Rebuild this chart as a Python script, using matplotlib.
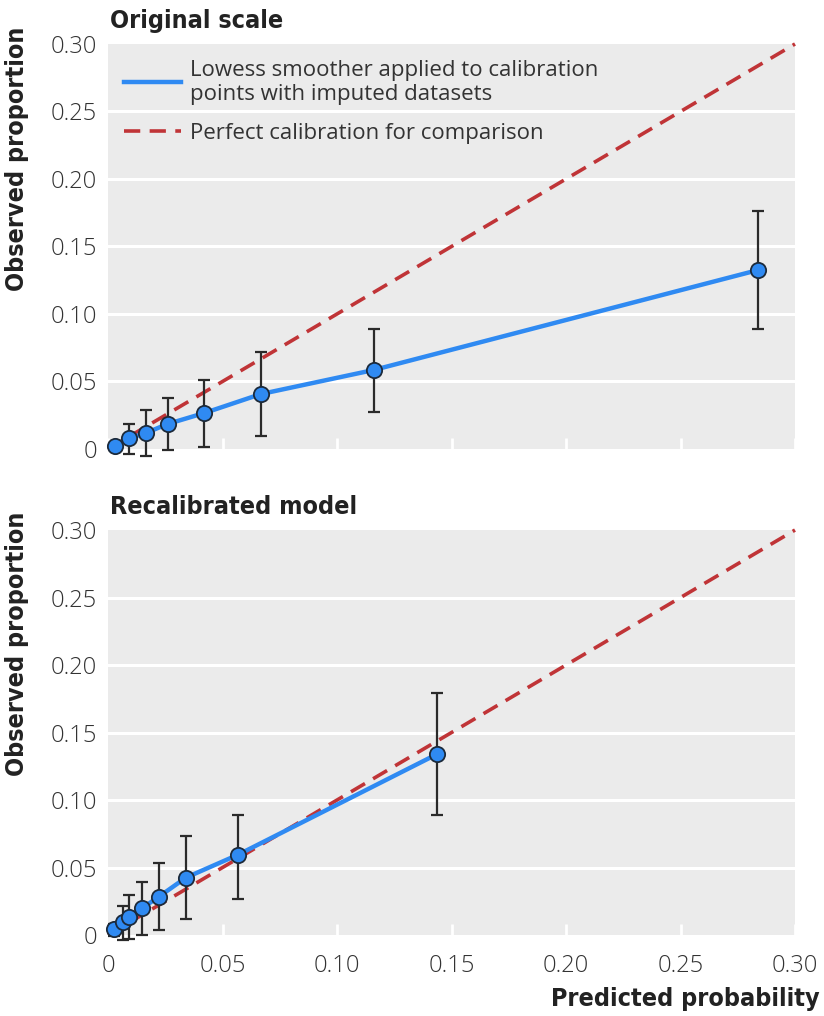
import matplotlib
matplotlib.use("Agg")
from matplotlib import pyplot as plt
from matplotlib.lines import Line2D
from matplotlib import font_manager
import numpy as np

# calibration points (predicted, observed) with 95% CI
orig_pred = [0.003, 0.0093, 0.0166, 0.026, 0.042, 0.0668, 0.116, 0.284]
orig_obs = [0.0025, 0.0078, 0.0119, 0.0185, 0.0266, 0.0407, 0.0585, 0.1326]
orig_low = [0.0005, -0.0037, -0.005, -0.001, 0.0015, 0.0096, 0.0274, 0.089]
orig_high = [0.0045, 0.0185, 0.029, 0.038, 0.051, 0.072, 0.089, 0.176]

recal_pred = [0.0026, 0.0065, 0.0092, 0.0148, 0.0223, 0.034, 0.0568, 0.1437]
recal_obs = [0.0042, 0.0093, 0.0131, 0.0198, 0.0285, 0.0425, 0.0595, 0.134]
recal_low = [-0.001, -0.004, -0.003, 0.0, 0.004, 0.012, 0.027, 0.089]
recal_high = [0.008, 0.0215, 0.030, 0.039, 0.053, 0.073, 0.089, 0.179]

# lowess smoother curves
orig_lowess_x = [0.0, 0.003, 0.0093, 0.0166, 0.026, 0.042, 0.0668, 0.116, 0.284]
orig_lowess_y = [0.001, 0.0025, 0.0078, 0.0119, 0.0185, 0.0266, 0.0407, 0.0585, 0.1326]
recal_lowess_x = [0.0, 0.0026, 0.0065, 0.0092, 0.0148, 0.0223, 0.034, 0.0568, 0.1437]
recal_lowess_y = [0.001, 0.0042, 0.0093, 0.0131, 0.0198, 0.0285, 0.0425, 0.0595, 0.134]

ticks = [0, 0.05, 0.10, 0.15, 0.20, 0.25, 0.30]
tick_labels = ["0", "0.05", "0.10", "0.15", "0.20", "0.25", "0.30"]

panel_titles = ["Original scale", "Recalibrated model"]

BLUE = "#2f8af2"
RED = "#c03437"
GRAY = "#ebebeb"
DARK = "#2a2a2a"
TXT = "#333333"

plt.rcParams["font.family"] = ["Open Sans", "DejaVu Sans"]
names = {f.name for f in font_manager.fontManager.ttflist}
if "Liberation Sans Narrow" in names:
    bold = dict(family="Liberation Sans Narrow", fontweight="bold")
    bsize = 21
else:
    bold = dict(family="DejaVu Sans", fontweight="bold", fontstretch="condensed")
    bsize = 18

fig = plt.figure(figsize=(8.24, 10.16), dpi=100)
ax1 = fig.add_axes([0.1311, 0.5581, 0.8337, 0.3986])
ax2 = fig.add_axes([0.1311, 0.0797, 0.8337, 0.3986])

panels = [
    (ax1, orig_pred, orig_obs, orig_low, orig_high, orig_lowess_x, orig_lowess_y),
    (ax2, recal_pred, recal_obs, recal_low, recal_high, recal_lowess_x, recal_lowess_y),
]

for i, (ax, px, py, lo, hi, lx, ly) in enumerate(panels):
    ax.set_facecolor(GRAY)
    for s in ax.spines.values():
        s.set_visible(False)
    ax.set_xlim(0, 0.30)
    ax.set_ylim(0, 0.30)
    for t in ticks[1:-1]:
        ax.axhline(t, color="white", lw=2.2, zorder=1)

    ax.plot([0, 0.30], [0, 0.30], color=RED, lw=2.6, dashes=(4.5, 2.6), zorder=2,
            clip_on=False)
    ax.plot(lx, ly, color=BLUE, lw=3.2, zorder=3, solid_capstyle="butt")

    py = np.array(py)
    err = [py - np.array(lo), np.array(hi) - py]
    ax.errorbar(px, py, yerr=err, fmt="none", ecolor=DARK, elinewidth=1.6,
                capsize=4.5, capthick=1.6, zorder=4, clip_on=False)
    ax.plot(px, py, "o", ms=11, mfc=BLUE, mec="#1c2a3a", mew=1.3, zorder=5,
            clip_on=False)

    ax.set_xticks(ticks)
    ax.set_yticks(ticks)
    ax.set_yticklabels(tick_labels, fontsize=17, color=TXT, fontweight="light")
    ax.tick_params(axis="y", length=0, pad=8)
    ax.tick_params(axis="x", direction="in", length=8, width=2, color="white", pad=14)
    if i == 0:
        ax.set_xticklabels([])
    else:
        ax.set_xticklabels(tick_labels, fontsize=17, color=TXT, fontweight="light")

    ax.text(0.003, 1.027, panel_titles[i], transform=ax.transAxes, fontsize=bsize,
            color="#222222", va="bottom", ha="left", **bold)

fig.text(0.006, 0.974, "Observed proportion", rotation=90, va="top", ha="left",
         fontsize=bsize, color="#222222", **bold)
fig.text(0.006, 0.496, "Observed proportion", rotation=90, va="top", ha="left",
         fontsize=bsize, color="#222222", **bold)
fig.text(0.995, 0.005, "Predicted probability", ha="right", va="bottom",
         fontsize=bsize, color="#222222", **bold)

handles = [
    Line2D([], [], color=BLUE, lw=3.2),
    Line2D([], [], color=RED, lw=2.6, dashes=(4.5, 2.6)),
]
labels = ["Lowess smoother applied to calibration\npoints with imputed datasets",
          "Perfect calibration for comparison"]
ax1.legend(handles, labels, loc="upper left", bbox_to_anchor=(0.0, 1.0), frameon=False,
           fontsize=16, handlelength=2.6, handletextpad=0.4, labelspacing=0.8,
           labelcolor=TXT, borderaxespad=0.3)

fig.savefig("out.png", dpi=100)
